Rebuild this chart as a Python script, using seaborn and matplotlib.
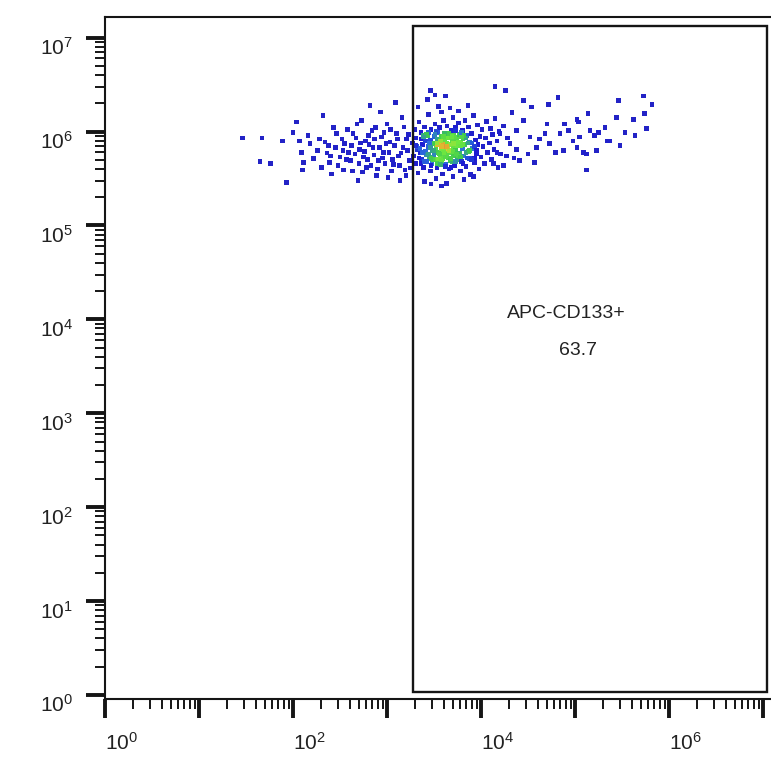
import numpy as np
import pandas as pd
import matplotlib
matplotlib.use("Agg")
import matplotlib.pyplot as plt
from matplotlib.colors import LinearSegmentedColormap
from matplotlib.patches import Rectangle
from matplotlib.ticker import LogLocator, NullFormatter
from matplotlib.transforms import ScaledTranslation
import seaborn as sns

# events as (log10 APC-CD133, log10 side scatter)
left_tail = [
    (1.46, 5.93), (1.67, 5.93), (1.65, 5.68), (1.76, 5.66), (1.89, 5.90), (1.93, 5.46),
    (2.00, 5.99), (2.04, 6.10), (2.07, 5.90), (2.09, 5.78), (2.11, 5.67), (2.10, 5.59),
    (2.16, 5.96), (2.18, 5.87), (2.26, 5.80), (2.32, 6.17), (2.34, 5.89), (2.36, 5.77),
    (2.39, 5.67), (2.41, 5.55), (2.45, 5.83), (2.46, 5.98), (2.50, 5.73), (2.54, 5.59),
    (2.55, 5.87), (2.59, 5.78), (2.61, 5.69), (2.64, 5.98), (2.68, 6.08), (2.69, 5.48),
    (2.71, 5.81), (2.75, 5.73), (2.77, 5.90), (2.78, 5.62), (2.82, 6.28), (2.84, 6.01),
    (2.85, 5.83), (2.89, 5.53), (2.91, 5.69), (2.93, 6.21), (2.94, 5.94), (2.96, 5.78),
    (3.00, 6.08), (3.01, 5.51), (3.03, 5.89), (3.07, 5.65), (3.09, 6.31), (3.10, 5.98),
    (3.12, 5.74), (3.14, 5.48), (3.16, 6.15), (3.17, 5.83), (3.19, 5.59), (3.21, 5.92),
    (3.24, 5.69),
]
left_mid = [
    (2.22, 5.71), (2.28, 5.92), (2.30, 5.62), (2.38, 5.85), (2.40, 5.74), (2.43, 6.04),
    (2.48, 5.64), (2.52, 5.92), (2.53, 5.80), (2.57, 5.70), (2.58, 6.02), (2.62, 5.85),
    (2.63, 5.58), (2.66, 5.76), (2.67, 5.93), (2.70, 5.66), (2.72, 5.88), (2.73, 6.12),
    (2.74, 5.57), (2.76, 5.79), (2.79, 5.70), (2.80, 5.96), (2.81, 5.86), (2.83, 5.64),
    (2.86, 5.75), (2.87, 5.92), (2.88, 6.04), (2.90, 5.60), (2.92, 5.83), (2.95, 5.72),
    (2.97, 5.99), (2.98, 5.66), (2.99, 5.87), (3.02, 5.78), (3.04, 6.02), (3.05, 5.58),
    (3.06, 5.70), (3.08, 5.85), (3.11, 5.92), (3.13, 5.64), (3.15, 5.77), (3.18, 6.05),
    (3.20, 5.53), (3.22, 5.80), (3.23, 5.97), (3.25, 5.61),
]
core = [
    (3.27, 5.88), (3.28, 5.74), (3.29, 6.02), (3.30, 5.66), (3.31, 5.93), (3.32, 5.81),
    (3.33, 5.56), (3.34, 6.10), (3.35, 5.77), (3.36, 5.99), (3.37, 5.70), (3.38, 5.86),
    (3.39, 5.62), (3.40, 6.05), (3.41, 5.90), (3.41, 5.79), (3.42, 5.68), (3.43, 5.96),
    (3.44, 5.84), (3.44, 6.18), (3.45, 5.73), (3.46, 5.58), (3.46, 5.91), (3.47, 6.02),
    (3.48, 5.80), (3.48, 5.66), (3.49, 5.87), (3.50, 5.95), (3.50, 5.75), (3.51, 6.08),
    (3.52, 5.83), (3.52, 5.70), (3.53, 5.61), (3.53, 5.92), (3.54, 5.99), (3.55, 5.78),
    (3.55, 5.86), (3.56, 5.67), (3.56, 6.04), (3.57, 5.89), (3.57, 5.74), (3.58, 5.82),
    (3.58, 5.95), (3.59, 5.55), (3.59, 5.71), (3.60, 5.87), (3.60, 6.12), (3.61, 5.79),
    (3.61, 5.91), (3.62, 5.65), (3.62, 5.84), (3.63, 5.98), (3.63, 5.76), (3.64, 5.88),
    (3.64, 6.06), (3.65, 5.72), (3.65, 5.82), (3.66, 5.93), (3.66, 5.60), (3.67, 5.86),
    (3.67, 5.69), (3.68, 6.01), (3.68, 5.78), (3.69, 5.90), (3.70, 5.83), (3.70, 6.15),
    (3.71, 5.74), (3.71, 5.96), (3.72, 5.64), (3.72, 5.87), (3.73, 6.04), (3.73, 5.80),
    (3.74, 5.92), (3.75, 5.70), (3.75, 5.85), (3.76, 6.09), (3.77, 5.77), (3.77, 5.97),
    (3.78, 5.58), (3.78, 5.88), (3.79, 5.68), (3.80, 6.01), (3.80, 5.82), (3.81, 5.92),
    (3.82, 5.74), (3.83, 6.12), (3.83, 5.86), (3.84, 5.63), (3.85, 5.96), (3.86, 5.79),
    (3.87, 6.05), (3.88, 5.71), (3.88, 5.89), (3.89, 5.54), (3.90, 5.98), (3.91, 5.82),
    (3.92, 6.17), (3.93, 5.67), (3.94, 5.91), (3.95, 5.76), (3.96, 6.07), (3.97, 5.86),
    (3.98, 5.60), (3.99, 5.95), (4.00, 5.73), (4.01, 6.02), (4.02, 5.84), (4.04, 5.66),
    (4.05, 5.93), (4.06, 6.11), (4.07, 5.78), (4.09, 5.88), (4.10, 6.03), (4.11, 5.70),
    (4.12, 5.97), (4.14, 5.81), (4.15, 6.14), (4.17, 5.90), (4.18, 5.62), (4.19, 6.00),
    (4.21, 5.76),
]
core_top = [
    (3.46, 6.44), (3.51, 6.39), (3.43, 6.34), (3.62, 6.38), (3.55, 6.27), (3.67, 6.25),
    (3.33, 6.26), (3.76, 6.22), (3.58, 6.21), (3.86, 6.28),
]
core_bottom = [
    (3.40, 5.47), (3.52, 5.50), (3.63, 5.45), (3.70, 5.52), (3.82, 5.49), (3.58, 5.42),
    (3.47, 5.44), (3.92, 5.52),
]
core_dense = [
    (3.32, 5.84), (3.36, 5.66), (3.39, 5.96), (3.42, 5.75), (3.45, 5.88), (3.47, 5.64),
    (3.50, 5.80), (3.52, 6.00), (3.55, 5.70), (3.57, 5.90), (3.60, 5.78), (3.62, 5.63),
    (3.64, 5.94), (3.66, 5.80), (3.69, 5.68), (3.71, 5.87), (3.73, 6.01), (3.76, 5.74),
    (3.78, 5.85), (3.81, 5.66), (3.84, 5.93), (3.87, 5.79), (3.90, 5.88), (3.93, 5.72),
    (3.44, 5.99), (3.53, 5.66), (3.61, 5.98), (3.68, 5.62), (3.79, 5.99), (3.58, 5.84),
]
core_wide = [
    (3.31, 5.85), (3.34, 5.72), (3.36, 5.92), (3.38, 5.78), (3.40, 5.68), (3.42, 5.97),
    (3.44, 5.76), (3.46, 5.83), (3.49, 5.70), (3.51, 5.97), (3.54, 5.86), (3.56, 5.76),
    (3.58, 5.69), (3.60, 5.95), (3.62, 5.73), (3.64, 5.84), (3.66, 5.98), (3.68, 5.71),
    (3.70, 5.79), (3.72, 5.94), (3.74, 5.76), (3.76, 5.89), (3.78, 5.73), (3.80, 5.86),
    (3.82, 5.96), (3.84, 5.78), (3.86, 5.88), (3.88, 5.80), (3.90, 5.70), (3.93, 5.84),
    (3.35, 5.82), (3.39, 5.94), (3.47, 5.71), (3.53, 5.88), (3.57, 5.65), (3.69, 5.95),
    (3.73, 5.68), (3.79, 5.94), (3.85, 5.72), (3.95, 5.80),
]
right_tail = [
    (4.15, 6.48), (4.26, 6.44), (4.45, 6.33), (4.54, 6.26), (4.45, 6.12), (4.38, 6.01),
    (4.24, 6.06), (4.20, 5.98), (4.31, 5.87), (4.17, 5.78), (4.27, 5.74), (4.38, 5.81),
    (4.13, 5.66), (4.24, 5.64), (4.41, 5.69), (4.52, 5.94), (4.59, 5.83), (4.57, 5.67),
    (4.70, 6.08), (4.72, 6.29), (4.68, 5.98), (4.73, 5.87), (4.79, 5.78), (4.82, 6.36),
    (4.84, 5.98), (4.89, 6.08), (4.88, 5.80), (4.93, 6.01), (4.98, 5.90), (5.02, 5.83),
    (5.04, 6.10), (5.09, 5.78), (5.14, 6.19), (5.16, 6.01), (5.21, 5.96), (5.23, 5.80),
    (5.12, 5.59), (5.32, 6.04), (5.34, 5.90), (5.44, 6.15), (5.46, 6.33), (5.48, 5.85),
    (5.53, 5.99), (5.62, 6.13), (5.64, 5.96), (5.73, 6.38), (5.74, 6.19), (5.76, 6.03),
    (5.82, 6.29), (5.05, 5.94), (5.02, 6.13), (5.37, 5.90), (5.25, 5.99), (5.12, 5.76),
    (4.33, 6.20), (4.50, 5.76), (4.62, 5.92), (4.28, 5.93), (4.35, 5.72),
]

decades = [0, 1, 2, 3, 4, 5, 6, 7]
x_tick_labels = [r"$\mathregular{10^{0}}$", "", r"$\mathregular{10^{2}}$", "",
                 r"$\mathregular{10^{4}}$", "", r"$\mathregular{10^{6}}$", ""]
y_tick_labels = [r"$\mathregular{10^{%d}}$" % d for d in decades]

gate_x = [1.9e3, 1.1e7]
gate_y = [1.08, 1.34e7]
gate_name = "APC-CD133+"
gate_pct = "63.7"

sns.set_style("white")
plt.rcParams["font.family"] = ["Liberation Sans", "DejaVu Sans"]
plt.rcParams["mathtext.fontset"] = "custom"
plt.rcParams["mathtext.rm"] = "Liberation Sans"

pts = pd.DataFrame(left_tail + left_mid + core + core_top + core_bottom + core_dense
                   + core_wide + right_tail, columns=["lx", "ly"])
# local event density (pseudocolor), small gaussian kernel in decade units
dx = (pts.lx.values[:, None] - pts.lx.values[None, :]) / 0.04
dy = (pts.ly.values[:, None] - pts.ly.values[None, :]) / 0.03
dens = np.exp(-0.5 * (dx ** 2 + dy ** 2)).sum(axis=1)
pts["density"] = dens / dens.max()
pts["CD133"] = np.power(10.0, pts.lx)
pts["SSC"] = np.power(10.0, pts.ly)

flow_cmap = LinearSegmentedColormap.from_list(
    "flow", [(0, "#2626c0"), (0.5, "#1c1cd4"), (0.62, "#2a70dc"),
             (0.72, "#3cc850"), (0.88, "#70e840"), (0.95, "#d8d830"), (1, "#e89030")])

fig = plt.figure(figsize=(7.71, 7.58), dpi=100)
ax = fig.add_axes([105 / 771, 59 / 758, 666 / 771, 682 / 758])

sns.scatterplot(data=pts, x="CD133", y="SSC", hue="density", palette=flow_cmap,
                hue_norm=(0, 1), s=11, marker="s", linewidth=0, legend=False, ax=ax)

ax.set_xscale("log")
ax.set_yscale("log")
ax.set_xlim(1, 10 ** 7.085)
ax.set_ylim(10 ** -0.043, 10 ** 7.22)

ax.add_patch(Rectangle((gate_x[0], gate_y[0]), gate_x[1] - gate_x[0], gate_y[1] - gate_y[0],
                       fill=False, lw=1.7, ec="#151515"))
ax.text(8.0e4, 1.15e4, gate_name, ha="center", va="center", fontsize=14, color="#222222")
ax.text(1.07e5, 4.7e3, gate_pct, ha="center", va="center", fontsize=14, color="#222222")

ticks = [10.0 ** d for d in decades]
ax.set_xticks(ticks, x_tick_labels, ha="left", fontsize=15, color="#222222")
ax.set_yticks(ticks, y_tick_labels, fontsize=15, color="#222222")
for axis in (ax.xaxis, ax.yaxis):
    axis.set_minor_locator(LogLocator(base=10, subs=np.arange(2, 10), numticks=100))
    axis.set_minor_formatter(NullFormatter())
ax.tick_params(which="both", bottom=True, left=True, top=False, right=False)
ax.tick_params(which="major", direction="out", length=14, width=2.8, color="#151515")
ax.tick_params(which="minor", direction="out", length=7, width=1.4, color="#151515")
ax.tick_params(axis="x", which="major", pad=10)
ax.tick_params(axis="y", which="major", pad=9)
ax.set_xlabel("")
ax.set_ylabel("")

# the y labels sit a little below their ticks in the original
shift_down = ScaledTranslation(0, -6 / 72, fig.dpi_scale_trans)
for lbl in ax.get_yticklabels():
    lbl.set_transform(lbl.get_transform() + shift_down)

for side in ("left", "bottom", "top"):
    ax.spines[side].set_linewidth(1.5)
    ax.spines[side].set_color("#151515")
ax.spines["right"].set_visible(False)

fig.savefig("out.png", dpi=100)
